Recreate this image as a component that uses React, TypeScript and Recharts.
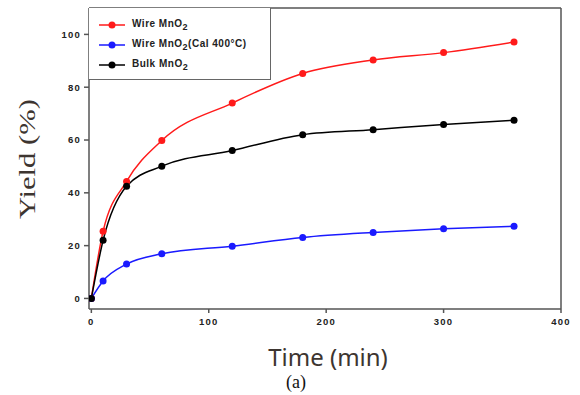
import { LineChart, Line, XAxis, YAxis, ReferenceLine } from 'recharts';

const times = [0, 10, 30, 60, 120, 180, 240, 300, 360];
const wireMnO2 = [0, 25.4, 44.3, 59.8, 74, 85.2, 90.3, 93.1, 97.1];
const wireCal400 = [0, 6.6, 13, 16.9, 19.8, 23.1, 25, 26.4, 27.3];
const bulkMnO2 = [0, 22, 42.5, 50.1, 56, 62, 63.9, 65.9, 67.5];

const xTicks = [0, 100, 200, 300, 400];
const yTicks = [0, 20, 40, 60, 80, 100];

const data = times.map((t, i) => ({
  t,
  wire: wireMnO2[i],
  cal: wireCal400[i],
  bulk: bulkMnO2[i],
}));

const AXIS = '#555';
// the source image is slightly stretched sideways, hence the letter spacing
const tickStyle = { fontFamily: 'Liberation Sans, Arial, sans-serif', fontSize: 9.5, fontWeight: 700, fill: '#222', letterSpacing: 1.2 };

// legend entries; the "2" is drawn as a subscript like the original figure
const legendItems = [
  { color: '#ff1a1a', parts: ['Wire MnO', '2', ''] },
  { color: '#1a1aff', parts: ['Wire MnO', '2', '(Cal 400°C)'] },
  { color: '#000', parts: ['Bulk MnO', '2', ''] },
];

function LegendBox() {
  return (
    <div
      style={{
        position: 'absolute',
        left: 89,
        top: 8,
        width: 182,
        height: 72,
        borderRight: '1.5px solid #666',
        borderBottom: '1.5px solid #666',
        background: '#fff',
        boxSizing: 'border-box',
        fontFamily: 'Liberation Sans, Arial, sans-serif',
        fontSize: 10,
        fontWeight: 700,
        letterSpacing: 0.5,
        color: '#222',
      }}
    >
      {legendItems.map((it, i) => (
        <div key={i} style={{ position: 'absolute', left: 10, top: 10 + i * 20, height: 14, display: 'flex', alignItems: 'center' }}>
          <svg width={30} height={10}>
            <line x1={0} y1={5} x2={26} y2={5} stroke={it.color} strokeWidth={1.5} />
            <circle cx={13} cy={5} r={3.5} fill={it.color} />
          </svg>
          <span style={{ marginLeft: 3, whiteSpace: 'nowrap' }}>
            {it.parts[0]}
            <sub style={{ fontSize: 9, verticalAlign: -3 }}>{it.parts[1]}</sub>
            {it.parts[2]}
          </span>
        </div>
      ))}
    </div>
  );
}

export default function App() {
  return (
    <div style={{ position: 'absolute', left: 0, top: 0, width: 580, height: 395, background: '#fff' }}>
      <LineChart width={580} height={395} data={data} margin={{ top: 8, right: 19, left: 49, bottom: 56 }}>
        <XAxis
          dataKey="t"
          type="number"
          domain={[-2, 400]}
          ticks={xTicks}
          tick={tickStyle}
          tickSize={4}
          tickMargin={5}
          stroke={AXIS}
          strokeWidth={1.5}
          height={30}
          allowDataOverflow
        />
        <YAxis
          type="number"
          domain={[-4, 110]}
          ticks={yTicks}
          tick={tickStyle}
          tickSize={5}
          tickMargin={3}
          stroke={AXIS}
          strokeWidth={1.5}
          width={40}
          allowDataOverflow
        />
        <ReferenceLine y={110} stroke={AXIS} strokeWidth={1.5} />
        <ReferenceLine x={400} stroke={AXIS} strokeWidth={1.5} />
        <Line type="monotone" dataKey="wire" stroke="#ff1a1a" strokeWidth={1.5} dot={{ r: 3.5, fill: '#ff1a1a', stroke: 'none' }} isAnimationActive={false} />
        <Line type="monotone" dataKey="cal" stroke="#1a1aff" strokeWidth={1.5} dot={{ r: 3.5, fill: '#1a1aff', stroke: 'none' }} isAnimationActive={false} />
        <Line type="monotone" dataKey="bulk" stroke="#000" strokeWidth={1.5} dot={{ r: 3.5, fill: '#000', stroke: 'none' }} isAnimationActive={false} />
      </LineChart>
      <LegendBox />
      <div
        style={{
          position: 'absolute',
          left: 28,
          top: 159,
          transform: 'translate(-50%, -50%) rotate(-90deg) scaleX(1.33)',
          fontFamily: 'Liberation Serif, Times New Roman, serif',
          fontSize: 23,
          color: '#3d3530',
          whiteSpace: 'nowrap',
        }}
      >
        Yield (%)
      </div>
      <div
        style={{
          position: 'absolute',
          left: 328,
          top: 356,
          transform: 'translate(-50%, -50%)',
          fontFamily: 'Noto Sans, sans-serif',
          fontSize: 24,
          color: '#3d3530',
          whiteSpace: 'nowrap',
        }}
      >
        Time (min)
      </div>
      <div
        style={{
          position: 'absolute',
          left: 296,
          top: 382,
          transform: 'translate(-50%, -50%)',
          fontFamily: 'Liberation Serif, Times New Roman, serif',
          fontSize: 18,
          color: '#111',
          whiteSpace: 'nowrap',
        }}
      >
        (a)
      </div>
    </div>
  );
}
